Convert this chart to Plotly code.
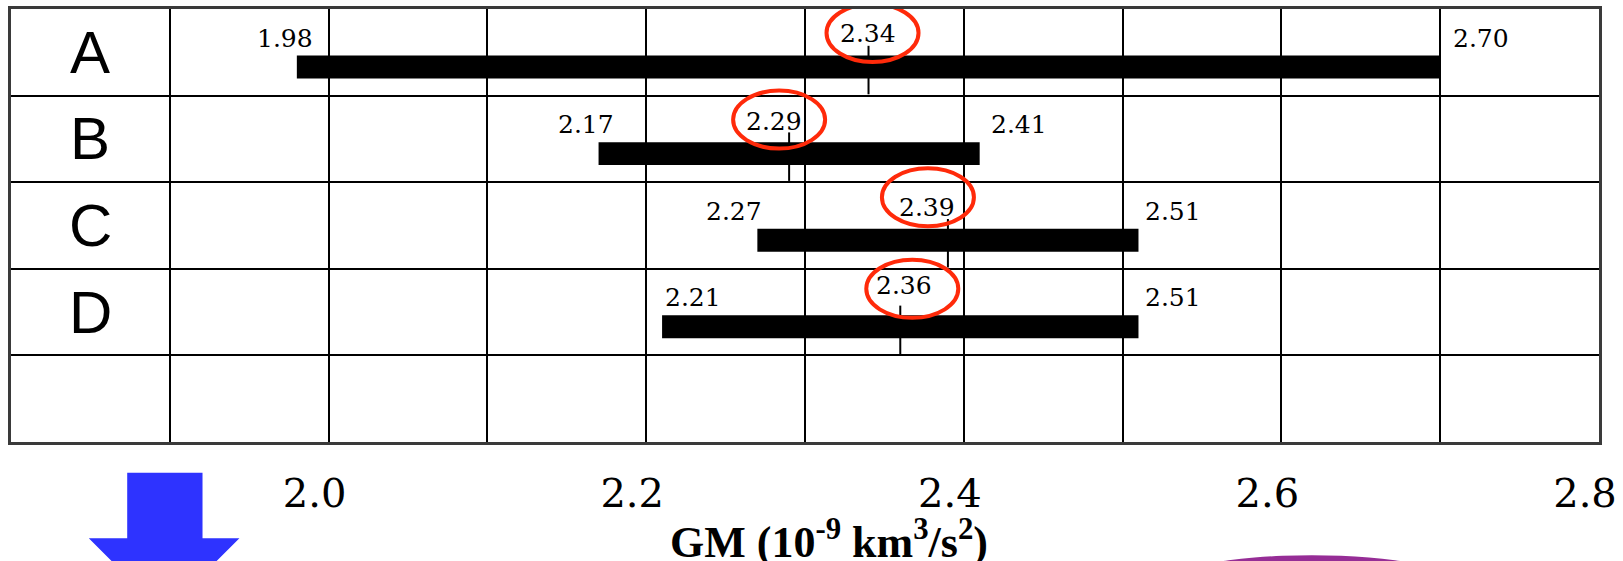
import plotly.graph_objects as go

# ---- data -------------------------------------------------------------
rows = ["A", "B", "C", "D"]
low = [1.98, 2.17, 2.27, 2.21]
mean = [2.34, 2.29, 2.39, 2.36]
high = [2.70, 2.41, 2.51, 2.51]
tick_values = [2.0, 2.2, 2.4, 2.6, 2.8]
tick_labels = ["2.0", "2.2", "2.4", "2.6", "2.8"]
axis_title = "GM (10<sup>-9</sup> km<sup>3</sup>/s<sup>2</sup>)"

# ---- layout geometry --------------------------------------------------
W, H = 1623, 561
ML, MR, MT, MB = 11, 20, 6, 119
PW, PH = W - ML - MR, H - MT - MB

row_base = [4, 3, 2, 1]          # bottom grid line of each labelled row
BAR_LIFT = 0.33                  # bar centre above its row's bottom line
BAR_W = 0.265

# per-row label placement (pixels)
low_dx = [18, 17, 7, 61]
high_dx = [11, 9, 5, 5]
end_dy = 29
mean_dx = [-1, -15, -21, 4]
mean_dy = [34, 32, 33, 41]
ring_dx = [4, -10, -20, 12]
ring_dy = [34, 34, 43, 38]

NUM_FONT = dict(family="DejaVu Serif", size=25, color="black")


def paper(px, py):
    return (px - ML) / PW, (H - MB - py) / PH


centres = [r + BAR_LIFT for r in row_base]

fig = go.Figure()

# range bars
fig.add_trace(go.Bar(
    orientation="h",
    y=centres,
    base=low,
    x=[h - l for l, h in zip(low, high)],
    width=BAR_W,
    marker=dict(color="black", line=dict(width=0)),
    hoverinfo="skip",
))

# mean markers: short vertical strokes through each bar
mx, my = [], []
for m, c, r in zip(mean, centres, row_base):
    mx += [m, m, None]
    my += [c + 0.245, r + 0.015, None]
fig.add_trace(go.Scatter(x=mx, y=my, mode="lines",
                         line=dict(color="black", width=2), hoverinfo="skip"))

ann = []
shapes = []
for i, (name, l, m, h, c, r) in enumerate(zip(rows, low, mean, high, centres, row_base)):
    ann.append(dict(x=1.85, y=r + 0.5, text=name, showarrow=False,
                    xanchor="center", yanchor="middle",
                    font=dict(family="Liberation Sans", size=60, color="black")))
    ann.append(dict(x=l, y=c, text=f"{l:.2f}", showarrow=False,
                    xanchor="right", yanchor="middle",
                    xshift=low_dx[i], yshift=end_dy, font=NUM_FONT))
    ann.append(dict(x=h, y=c, text=f"{h:.2f}", showarrow=False,
                    xanchor="left", yanchor="middle",
                    xshift=high_dx[i], yshift=end_dy, font=NUM_FONT))
    ann.append(dict(x=m, y=c, text=f"{m:.2f}", showarrow=False,
                    xanchor="center", yanchor="middle",
                    xshift=mean_dx[i], yshift=mean_dy[i], font=NUM_FONT))
    shapes.append(dict(type="circle", xref="x", yref="y",
                       xsizemode="pixel", ysizemode="pixel",
                       xanchor=m, yanchor=c,
                       x0=ring_dx[i] - 46, x1=ring_dx[i] + 46,
                       y0=ring_dy[i] - 29, y1=ring_dy[i] + 29,
                       line=dict(color="#FF2A0A", width=4)))

# axis title
tx, ty = paper(831, 570)
ann.append(dict(xref="paper", yref="paper", x=tx, y=ty, text=f"<b>{axis_title}</b>",
                showarrow=False, xanchor="center", yanchor="bottom",
                font=dict(family="Liberation Serif", size=44, color="black")))

# blue down arrow
pts = [(127.5, 473), (203, 473), (203, 539), (240, 539), (164.5, 614.5),
       (89, 539), (127.5, 539)]
pp = [paper(x, y) for x, y in pts]
path = "M " + " L ".join(f"{x:.5f},{y:.5f}" for x, y in pp) + " Z"
shapes.append(dict(type="path", xref="paper", yref="paper", path=path,
                   fillcolor="#2E33FF", line=dict(width=0), layer="above"))

# purple shape at the bottom edge
e0 = paper(1165, 556)
e1 = paper(1465, 616)
shapes.append(dict(type="circle", xref="paper", yref="paper",
                   x0=e0[0], x1=e1[0], y0=e1[1], y1=e0[1],
                   fillcolor="#962D96", line=dict(width=0), layer="above"))

fig.update_layout(
    width=W, height=H,
    margin=dict(l=ML, r=MR, t=MT, b=MB),
    paper_bgcolor="white", plot_bgcolor="white",
    showlegend=False,
    annotations=ann,
    shapes=shapes,
    xaxis=dict(
        range=[1.8, 2.8],
        tickvals=tick_values, ticktext=tick_labels,
        ticks="", ticklabelshift=-14, ticklabelstandoff=14,
        tickfont=dict(family="DejaVu Serif", size=40, color="black"),
        showgrid=True, gridcolor="black", gridwidth=2,
        minor=dict(dtick=0.1, tick0=1.8, showgrid=True, gridcolor="black",
                   gridwidth=2, ticks=""),
        zeroline=False,
        showline=True, mirror=True, linecolor="#3a3a3a", linewidth=3,
        fixedrange=True,
    ),
    yaxis=dict(
        range=[0, 5], dtick=1, tick0=0,
        showticklabels=False, ticks="",
        showgrid=True, gridcolor="black", gridwidth=2,
        zeroline=False,
        showline=True, mirror=True, linecolor="#3a3a3a", linewidth=3,
        fixedrange=True,
    ),
)

fig.write_html("out.html")
